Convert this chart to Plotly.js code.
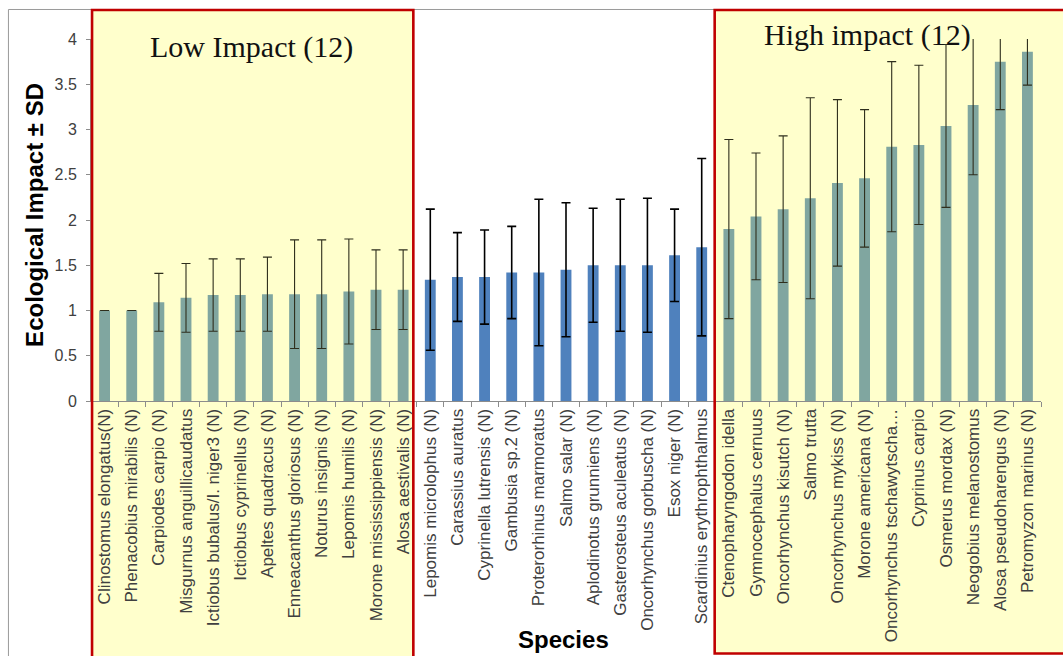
<!DOCTYPE html>
<html>
<head>
<meta charset="utf-8">
<script src="https://cdn.plot.ly/plotly-3.0.1.min.js"></script>
<style>
  html, body { margin: 0; padding: 0; background: #ffffff; }
  #chart { width: 1063px; height: 656px; }
</style>
</head>
<body>
<div id="chart"></div>
<script>
// Species grouped by impact class, mean ecological impact and its SD
const lowSpecies = [
  "Clinostomus elongatus(N)", "Phenacobius mirabilis (N)", "Carpiodes carpio (N)",
  "Misgurnus anguillicaudatus", "Ictiobus bubalus/I. niger3 (N)", "Ictiobus cyprinellus (N)",
  "Apeltes quadracus (N)", "Enneacanthus gloriosus (N)", "Noturus insignis (N)",
  "Lepomis humilis (N)", "Morone mississippiensis (N)", "Alosa aestivalis (N)"
];
const lowImpact = [1.00, 1.00, 1.09, 1.14, 1.17, 1.17, 1.18, 1.18, 1.18, 1.21, 1.23, 1.23];
const lowSD     = [0.00, 0.00, 0.32, 0.38, 0.40, 0.40, 0.41, 0.60, 0.60, 0.58, 0.44, 0.44];

const midSpecies = [
  "Lepomis microlophus (N)", "Carassius auratus", "Cyprinella lutrensis (N)",
  "Gambusia sp.2 (N)", "Proterorhinus marmoratus", "Salmo salar (N)",
  "Aplodinotus grunniens (N)", "Gasterosteus aculeatus (N)", "Oncorhynchus gorbuscha (N)",
  "Esox niger (N)", "Scardinius erythrophthalmus"
];
const midImpact = [1.34, 1.37, 1.37, 1.42, 1.42, 1.45, 1.50, 1.50, 1.50, 1.61, 1.70];
const midSD     = [0.78, 0.49, 0.52, 0.51, 0.81, 0.74, 0.63, 0.73, 0.74, 0.51, 0.98];

const highSpecies = [
  "Ctenopharyngodon idella", "Gymnocephalus cernuus", "Oncorhynchus kisutch (N)",
  "Salmo trutta", "Oncorhynchus mykiss (N)", "Morone americana (N)",
  "Oncorhynchus tschawytscha…", "Cyprinus carpio", "Osmerus mordax (N)",
  "Neogobius melanostomus", "Alosa pseudoharengus (N)", "Petromyzon marinus (N)"
];
const highImpact = [1.90, 2.04, 2.12, 2.24, 2.41, 2.46, 2.81, 2.83, 3.04, 3.27, 3.75, 3.86];
const highSD     = [0.99, 0.70, 0.81, 1.11, 0.92, 0.76, 0.94, 0.88, 0.90, 0.77, 0.53, 0.37];

const yTicks = [0, 0.5, 1, 1.5, 2, 2.5, 3, 3.5, 4];
const yTickText = ["0", "0.5", "1", "1.5", "2", "2.5", "3", "3.5", "4"];

const allSpecies = lowSpecies.concat(midSpecies, highSpecies);

function barTrace(x, y, sd, color, errColor, errWidth) {
  return {
    type: "bar",
    x: x,
    y: y,
    width: 0.4,
    marker: { color: color, line: { width: 0 } },
    error_y: {
      type: "data", array: sd, visible: true,
      color: errColor, thickness: errWidth, width: 4.5
    },
    hoverinfo: "x+y",
    showlegend: false
  };
}

const data = [
  barTrace(lowSpecies, lowImpact, lowSD, "#80a6a0", "#2e2e1c", 1.1),
  barTrace(midSpecies, midImpact, midSD, "#4f81bd", "#000000", 1.6),
  barTrace(highSpecies, highImpact, highSD, "#80a6a0", "#2e2e1c", 1.1)
];

const red = "#c00000";
const pale = "#ffffcc";

const layout = {
  width: 1063,
  height: 656,
  margin: { l: 91, r: 22, t: 39, b: 255, pad: 0 },
  paper_bgcolor: "#ffffff",
  plot_bgcolor: "rgba(0,0,0,0)",
  barmode: "overlay",
  font: { family: "Liberation Sans, Arial, sans-serif", color: "#3a3a3a" },
  xaxis: {
    type: "category",
    categoryorder: "array",
    categoryarray: allSpecies,
    range: [-0.5, allSpecies.length - 0.5],
    tickangle: -90,
    tickfont: { size: 17, color: "#404040" },
    ticks: "outside",
    tickson: "boundaries",
    ticklen: 5,
    tickcolor: "#8c8c8c",
    showline: true,
    linecolor: "#8c8c8c",
    linewidth: 1,
    showgrid: false,
    zeroline: false,
    automargin: false
  },
  yaxis: {
    range: [0, 4],
    tickvals: yTicks,
    ticktext: yTickText,
    tickfont: { size: 16, color: "#404040" },
    ticks: "outside",
    ticklen: 4,
    tickcolor: "#8c8c8c",
    ticklabelstandoff: 6,
    showline: true,
    linecolor: "#8c8c8c",
    showgrid: false,
    zeroline: false,
    automargin: false
  },
  shapes: [
    // outer chart frame
    { type: "rect", xref: "paper", yref: "paper", x0: -0.0869, x1: 1.2, y0: -1.2, y1: 1.0815,
      line: { color: "#9a9a9a", width: 1 }, fillcolor: "rgba(0,0,0,0)", layer: "below" },
    // shaded impact panels
    { type: "rect", xref: "paper", yref: "paper", x0: 0.0011, x1: 0.3393, y0: -0.75, y1: 1.0801,
      line: { width: 0 }, fillcolor: pale, layer: "below" },
    { type: "rect", xref: "paper", yref: "paper", x0: 0.6565, x1: 1.06, y0: -0.6975, y1: 1.0801,
      line: { width: 0 }, fillcolor: pale, layer: "below" },
    // panel outlines
    { type: "rect", xref: "paper", yref: "paper", x0: 0.0011, x1: 0.3393, y0: -0.75, y1: 1.0801,
      line: { color: red, width: 2.6 }, fillcolor: "rgba(0,0,0,0)", layer: "above" },
    { type: "rect", xref: "paper", yref: "paper", x0: 0.6565, x1: 1.06, y0: -0.6975, y1: 1.0801,
      line: { color: red, width: 2.6 }, fillcolor: "rgba(0,0,0,0)", layer: "above" }
  ],
  annotations: [
    { text: "Low Impact (12)", xref: "paper", yref: "paper", x: 0.1686, y: 0.978,
      xanchor: "center", yanchor: "middle", showarrow: false,
      font: { family: "Liberation Serif, Times New Roman, serif", size: 30, color: "#111111" } },
    { text: "High impact (12)", xref: "paper", yref: "paper", x: 0.8172, y: 1.011,
      xanchor: "center", yanchor: "middle", showarrow: false,
      font: { family: "Liberation Serif, Times New Roman, serif", size: 30, color: "#111111" } },
    { text: "Ecological Impact ± SD", xref: "paper", yref: "paper", x: -0.059, y: 0.514,
      xanchor: "center", yanchor: "middle", textangle: -90, showarrow: false,
      font: { family: "Liberation Sans, Arial, sans-serif", size: 24, color: "#000000", weight: "bold" } },
    { text: "Species", xref: "paper", yref: "paper", x: 0.4974, y: -0.660,
      xanchor: "center", yanchor: "middle", showarrow: false,
      font: { family: "Liberation Sans, Arial, sans-serif", size: 24, color: "#000000", weight: "bold" } }
  ]
};

Plotly.newPlot("chart", data, layout, { displayModeBar: false, staticPlot: true });
</script>
</body>
</html>
